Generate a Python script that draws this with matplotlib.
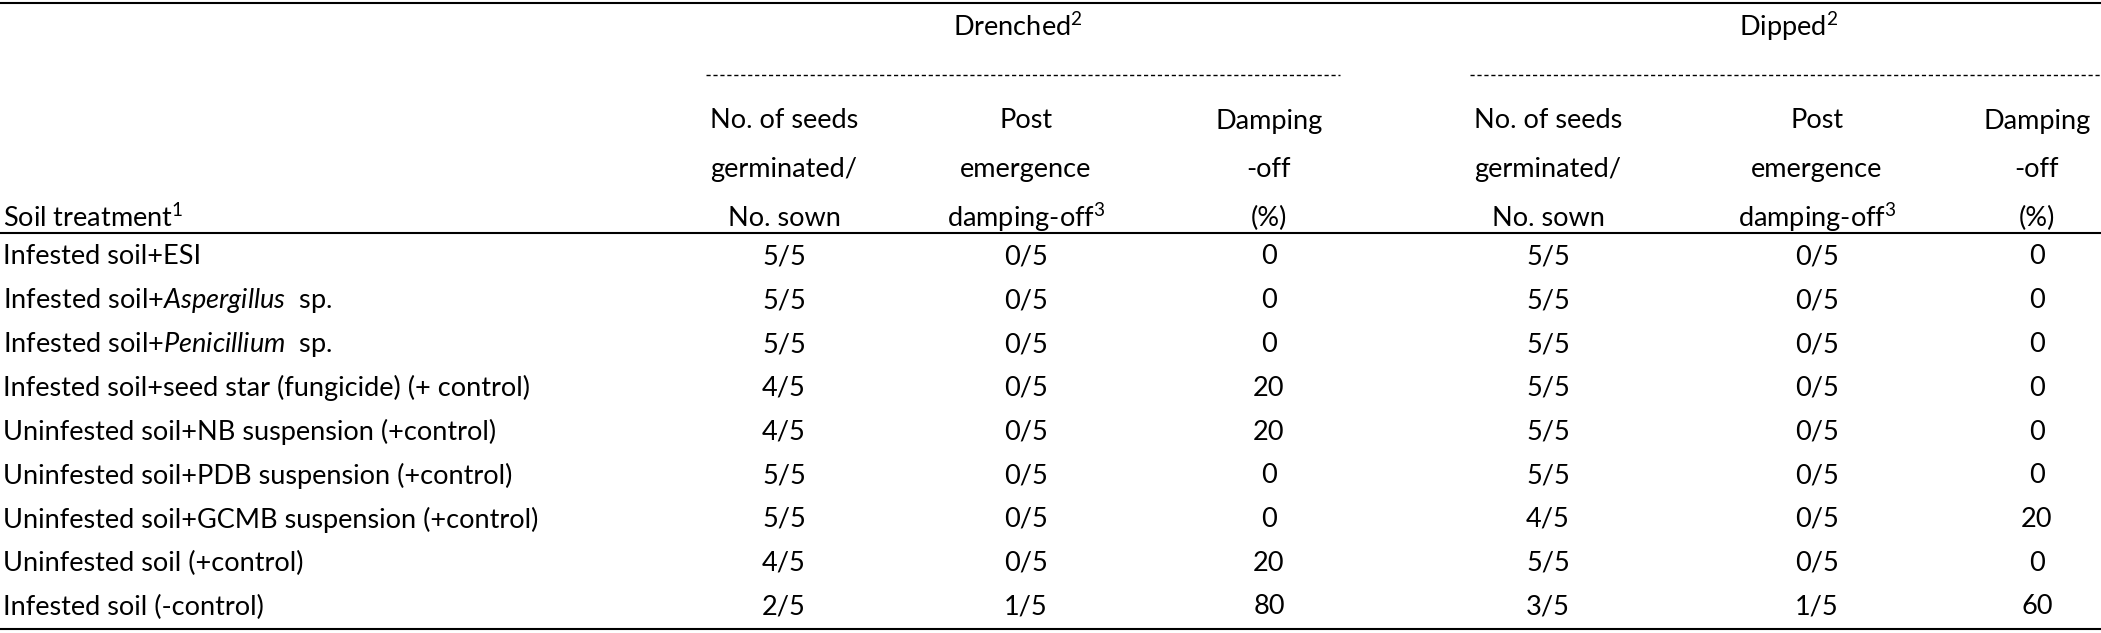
import matplotlib
matplotlib.use("Agg")
import matplotlib.pyplot as plt

plt.rcParams['font.family'] = 'Lato'
plt.rcParams['mathtext.fontset'] = 'custom'
plt.rcParams['mathtext.rm'] = 'Lato'
plt.rcParams['mathtext.it'] = 'Lato:italic'

treatments = [
    "Infested soil+ESI",
    r"Infested soil+$\mathit{Aspergillus}$  sp.",
    r"Infested soil+$\mathit{Penicillium}$  sp.",
    "Infested soil+seed star (fungicide) (+ control)",
    "Uninfested soil+NB suspension (+control)",
    "Uninfested soil+PDB suspension (+control)",
    "Uninfested soil+GCMB suspension (+control)",
    "Uninfested soil (+control)",
    "Infested soil (-control)",
]
dr_germ = ["5/5", "5/5", "5/5", "4/5", "4/5", "5/5", "5/5", "4/5", "2/5"]
dr_post = ["0/5", "0/5", "0/5", "0/5", "0/5", "0/5", "0/5", "0/5", "1/5"]
dr_damp = ["0", "0", "0", "20", "20", "0", "0", "20", "80"]
di_germ = ["5/5", "5/5", "5/5", "5/5", "5/5", "5/5", "4/5", "5/5", "3/5"]
di_post = ["0/5", "0/5", "0/5", "0/5", "0/5", "0/5", "0/5", "0/5", "1/5"]
di_damp = ["0", "0", "0", "0", "0", "0", "20", "0", "60"]

W, H = 2101, 633
fig = plt.figure(figsize=(W/100, H/100), dpi=100)
ax = fig.add_axes([0, 0, 1, 1])
ax.set_xlim(0, W); ax.set_ylim(H, 0); ax.axis('off')

fs = 19.5
ax.plot([0, W], [3, 3], color='black', lw=1.5)
ax.plot([0, W], [233, 233], color='black', lw=1.5)
ax.plot([0, W], [629, 629], color='black', lw=1.5)

ax.text(1018, 27, r"Drenched$^2$", ha='center', va='center', fontsize=fs)
ax.text(1789, 27, r"Dipped$^2$", ha='center', va='center', fontsize=fs)
ax.plot([706, 1340], [75, 75], color='black', lw=1, ls=(0, (3, 2)))
ax.plot([1470, 2101], [75, 75], color='black', lw=1, ls=(0, (3, 2)))

cols = [784, 1026, 1269, 1548, 1817, 2037]
hdrs = [["No. of seeds", "germinated/", "No. sown"],
        ["Post", "emergence", r"damping-off$^3$"],
        ["Damping", "-off", "(%)"]]
for i, c in enumerate(cols):
    for j, line in enumerate(hdrs[i % 3]):
        ax.text(c, 121 + j*48.5, line, ha='center', va='center', fontsize=fs)
ax.text(3, 218, r"Soil treatment$^1$", ha='left', va='center', fontsize=fs)

data = [dr_germ, dr_post, dr_damp, di_germ, di_post, di_damp]
for r, t in enumerate(treatments):
    y = 257 + r*43.75
    ax.text(3, y, t, ha='left', va='center', fontsize=fs)
    for c, d in zip(cols, data):
        ax.text(c, y, d[r], ha='center', va='center', fontsize=fs)

fig.savefig("out.png", dpi=100)
